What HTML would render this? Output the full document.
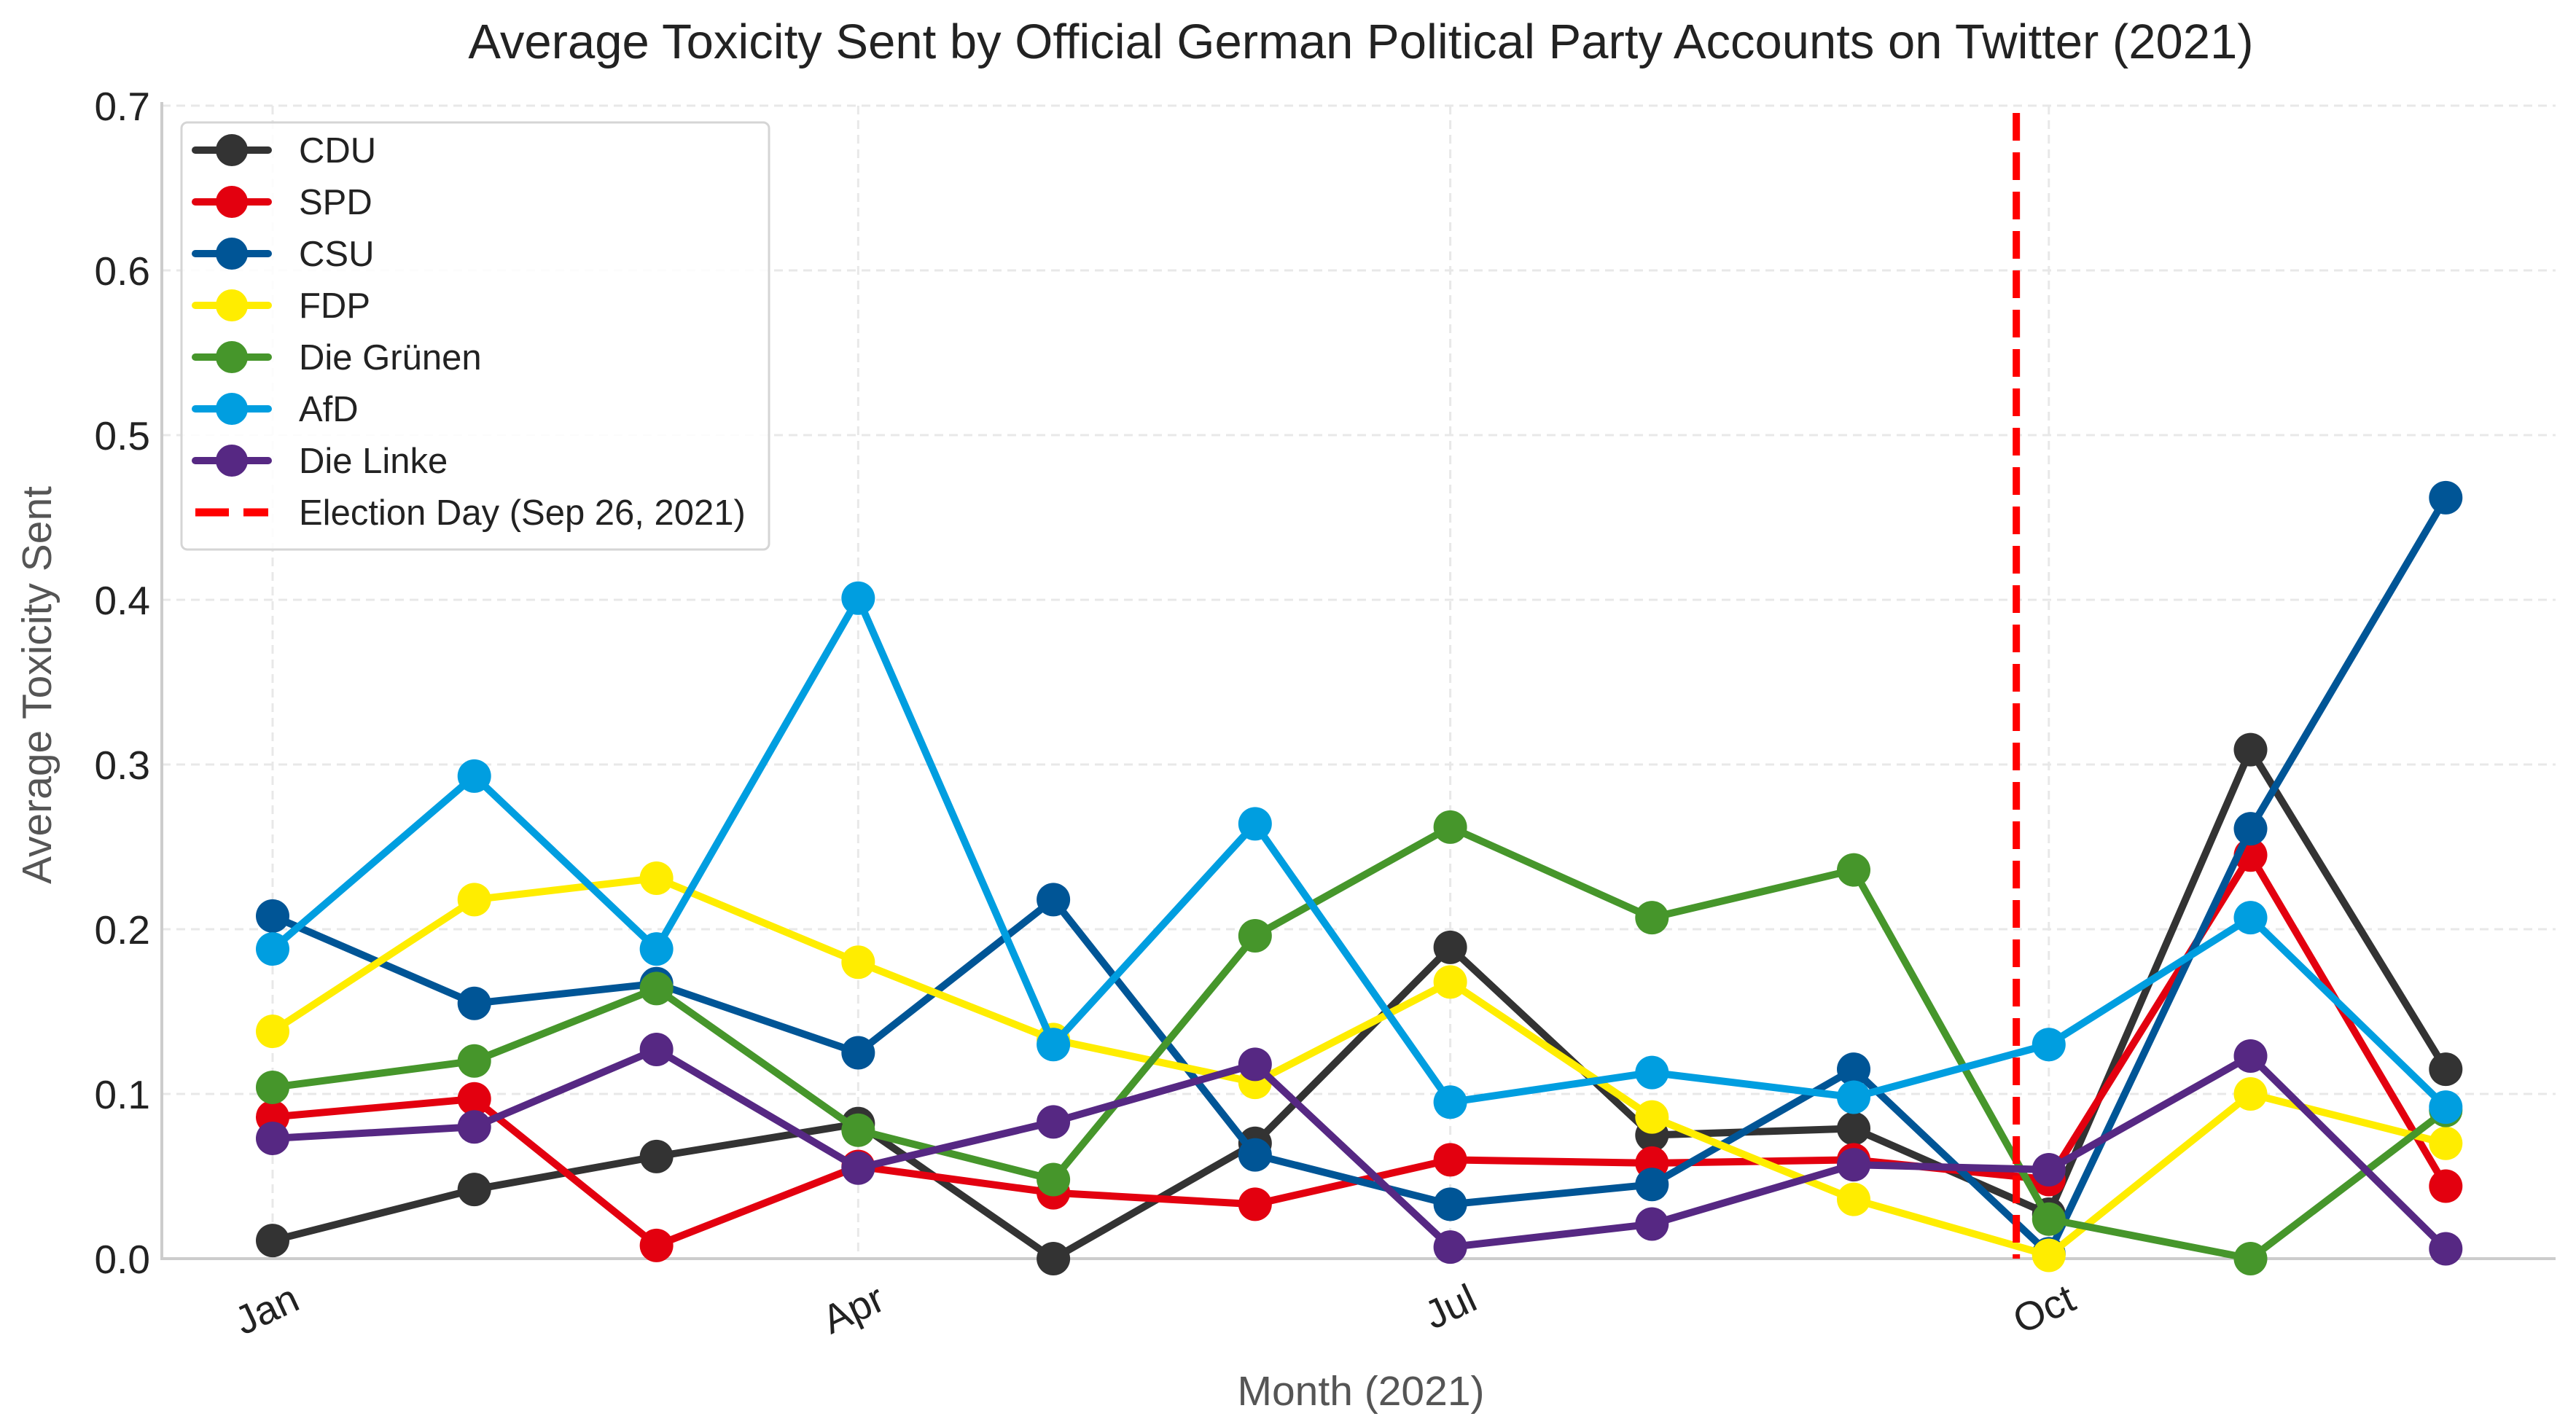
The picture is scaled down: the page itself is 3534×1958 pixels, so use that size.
<!DOCTYPE html>
<html><head><meta charset="utf-8"><style>
html,body{margin:0;padding:0;background:#fff;}
svg{display:block;font-family:"Liberation Sans",sans-serif;}
</style></head><body>
<svg id="chart" width="3534" height="1958" viewBox="0 0 3534 1958" xmlns="http://www.w3.org/2000/svg">
<rect width="3534" height="1958" fill="#fff"/>
<text x="1867" y="80" text-anchor="middle" font-size="67" fill="#222">Average Toxicity Sent by Official German Political Party Accounts on Twitter (2021)</text>
<g id="grid"></g>
<g id="axes"></g>
<g id="series"></g>
<text x="1867" y="1928" text-anchor="middle" font-size="57" fill="#555">Month (2021)</text>
<text transform="translate(70,940) rotate(-90)" text-anchor="middle" font-size="57" fill="#555">Average Toxicity Sent</text>
<g id="legend"></g>
</svg>
<script>
const monthDays = [0,31,59,90,120,151,181,212,243,273,304,334];
const yTicks = [0,0.1,0.2,0.3,0.4,0.5,0.6,0.7];
const xTickDays = [0,90,181,273];
const xTickLabels = ["Jan","Apr","Jul","Oct"];
const electionDay = 268;
const parties = ["CDU","SPD","CSU","FDP","Die Grünen","AfD","Die Linke"];
const colors = ["#333333","#e3000f","#005596","#ffed00","#46962b","#009ee0","#562883"];
const cdu = [0.011,0.042,0.062,0.082,0.0,0.07,0.189,0.075,0.079,0.027,0.309,0.115];
const spd = [0.086,0.097,0.008,0.056,0.04,0.033,0.06,0.058,0.06,0.048,0.245,0.044];
const csu = [0.208,0.155,0.167,0.125,0.218,0.063,0.033,0.045,0.115,0.003,0.261,0.462];
const fdp = [0.138,0.218,0.231,0.18,0.133,0.107,0.168,0.086,0.036,0.002,0.1,0.07];
const gruene = [0.104,0.12,0.164,0.078,0.048,0.196,0.262,0.207,0.236,0.024,0.0,0.09];
const afd = [0.188,0.293,0.188,0.401,0.13,0.264,0.095,0.113,0.098,0.13,0.207,0.092];
const linke = [0.073,0.08,0.127,0.055,0.083,0.118,0.007,0.021,0.057,0.054,0.123,0.006];
const allSeries = [cdu,spd,csu,fdp,gruene,afd,linke];

const NS="http://www.w3.org/2000/svg";
const L=222,R=3506,T=145,B=1727;
const x=d=>374+d*8.926;
const y=v=>B-(v/0.7)*(B-T);
function mk(tag,attrs,parent){const e=document.createElementNS(NS,tag);for(const k in attrs)e.setAttribute(k,attrs[k]);parent.appendChild(e);return e;}
const grid=document.getElementById('grid'),axes=document.getElementById('axes'),ser=document.getElementById('series'),leg=document.getElementById('legend');

yTicks.forEach(t=>{
  const g=mk('line',{x1:L,x2:R,y1:y(t),y2:y(t),stroke:'#e8e8e8','stroke-width':3,'stroke-dasharray':'12 8'},grid);
  
  
  const tx=mk('text',{x:206,y:y(t)+20,'text-anchor':'end','font-size':55,fill:'#222'},axes);
  tx.textContent=t.toFixed(1);
  
  
});
xTickDays.forEach((d,i)=>{
  const g=mk('line',{x1:x(d),x2:x(d),y1:T,y2:B,stroke:'#e8e8e8','stroke-width':3,'stroke-dasharray':'12 8'},grid);
  
  
  const tx=mk('text',{transform:`translate(${x(d)+40},${B+68}) rotate(-25)`,'text-anchor':'end','font-size':55,fill:'#222'},axes);
  tx.textContent=xTickLabels[i];
  
  
});
const sl=mk('line',{x1:L,x2:L,y1:T-5,y2:B+2,stroke:'#cccccc','stroke-width':4},axes);


const sb=mk('line',{x1:L-2,x2:R,y1:B,y2:B,stroke:'#cccccc','stroke-width':4},axes);



allSeries.forEach((vals,i)=>{
  const g=mk('g',{},ser);
  
  
  const pts=vals.map((v,j)=>x(monthDays[j])+','+y(v)).join(' ');
  const pl=mk('polyline',{points:pts,fill:'none',stroke:colors[i],'stroke-width':10,'stroke-linejoin':'round'},g);
  
  
  vals.forEach((v,j)=>{
    const c=mk('circle',{cx:x(monthDays[j]),cy:y(v),r:23,fill:colors[i]},g);
    
    
  });
});
const el=mk('line',{x1:x(electionDay),x2:x(electionDay),y1:T+10,y2:B,stroke:'#ff0000','stroke-width':10,'stroke-dasharray':'38 16'},ser);



const box=mk('rect',{x:249,y:168,width:806,height:586,rx:8,fill:'#fff','fill-opacity':0.85,stroke:'#d5d5d5','stroke-width':3},leg);


const labels=parties.concat(["Election Day (Sep 26, 2021)"]);
labels.forEach((lb,i)=>{
  const cy=206+i*71;
  const g=mk('g',{},leg);
  
  
  if(i<7){
    mk('line',{x1:268,x2:368,y1:cy,y2:cy,stroke:colors[i],'stroke-width':10,'stroke-linecap':'round'},g);
    mk('circle',{cx:318,cy:cy,r:22,fill:colors[i]},g);
  } else {
    mk('line',{x1:268,x2:368,y1:cy,y2:cy,stroke:'#ff0000','stroke-width':11,'stroke-dasharray':'46 20'},g);
  }
  const t=mk('text',{x:410,y:cy+17,'font-size':49,fill:'#222'},g);
  t.textContent=lb;
});
</script>
</body></html>
